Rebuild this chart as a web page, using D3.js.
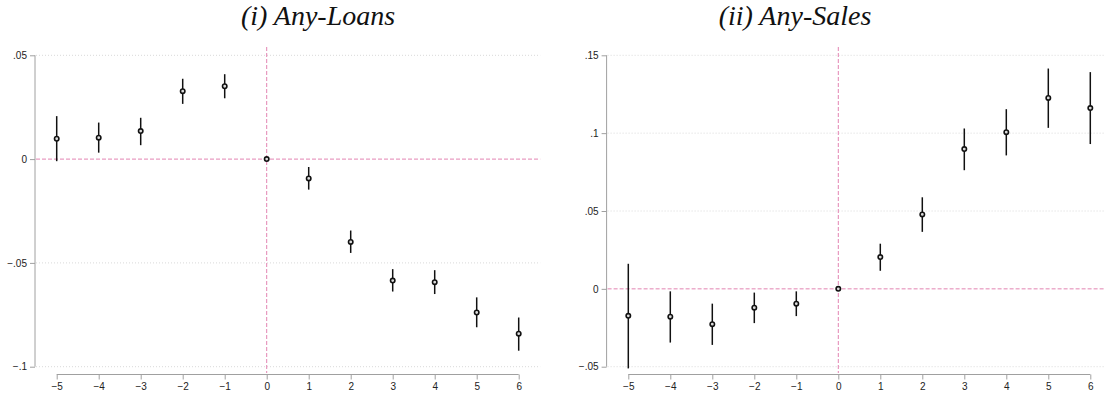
<!DOCTYPE html>
<html>
<head>
<meta charset="utf-8">
<script src="https://cdn.jsdelivr.net/npm/d3@7"></script>
<style>
  html, body { margin: 0; padding: 0; background: #fff; }
  svg { display: block; }
</style>
</head>
<body>
<svg id="chart" width="1104" height="398"></svg>
<script>
// ---- data ----
const eventTime = [-5, -4, -3, -2, -1, 0, 1, 2, 3, 4, 5, 6];

const loansCoef  = [0.0098, 0.0103, 0.0135, 0.0327, 0.0351, 0, -0.0093, -0.0399, -0.0585, -0.0593, -0.0739, -0.0841];
const loansLower = [-0.0010, 0.0031, 0.0067, 0.0266, 0.0293, 0, -0.0147, -0.0452, -0.0638, -0.0650, -0.0810, -0.0923];
const loansUpper = [0.0207, 0.0176, 0.0199, 0.0387, 0.0409, 0, -0.0038, -0.0344, -0.0530, -0.0535, -0.0666, -0.0763];

const salesCoef  = [-0.0173, -0.0179, -0.0227, -0.0121, -0.0095, 0, 0.0204, 0.0478, 0.0898, 0.1006, 0.1226, 0.1161];
const salesLower = [-0.0511, -0.0345, -0.0360, -0.0220, -0.0175, 0, 0.0116, 0.0366, 0.0762, 0.0857, 0.1034, 0.0930];
const salesUpper = [0.0161, -0.0016, -0.0095, -0.0024, -0.0016, 0, 0.0290, 0.0588, 0.1030, 0.1154, 0.1415, 0.1392];

const loansYTicks = [-0.1, -0.05, 0, 0.05];
const loansYLabels = ["\u2212.1", "\u2212.05", "0", ".05"];
const salesYTicks = [-0.05, 0, 0.05, 0.1, 0.15];
const salesYLabels = ["\u2212.05", "0", ".05", ".1", ".15"];
const xTickLabels = ["\u22125", "\u22124", "\u22123", "\u22122", "\u22121", "0", "1", "2", "3", "4", "5", "6"];

const titles = ["(i) Any-Loans", "(ii) Any-Sales"];

// ---- drawing ----
const svg = d3.select("#chart");
const AXIS = "#a0a0a0";
const PINK = "#e384b2";
const GRID = "#d9d9d9";

function panel(cfg) {
  const g = svg.append("g");
  const x = d3.scaleLinear().domain([-5, 6]).range(cfg.xRange);
  const y = d3.scaleLinear().domain(cfg.yDomain).range([366.7, 55.3]);
  const regionL = cfg.xRange[0] - 21.7, regionR = cfg.xRange[1] + 21.5;
  const regionT = 47, regionB = 375;

  // grid lines (dotted), skip zero
  g.selectAll(".grid").data(cfg.yTicks.filter(d => d !== 0)).enter().append("line")
    .attr("x1", regionL + 1).attr("x2", regionR)
    .attr("y1", d => y(d)).attr("y2", d => y(d))
    .attr("stroke", GRID).attr("stroke-width", 1).attr("stroke-dasharray", "1,2");

  // pink reference lines
  g.append("line")
    .attr("x1", regionL + 1).attr("x2", regionR)
    .attr("y1", y(0)).attr("y2", y(0))
    .attr("stroke", PINK).attr("stroke-width", 1).attr("stroke-dasharray", "4,2");
  g.append("line")
    .attr("x1", x(0)).attr("x2", x(0))
    .attr("y1", regionT).attr("y2", regionB - 2)
    .attr("stroke", PINK).attr("stroke-width", 1).attr("stroke-dasharray", "4,2");

  // y axis
  const yAxis = d3.axisLeft(y).tickValues(cfg.yTicks)
    .tickFormat((d, i) => cfg.yLabels[i]).tickSize(5).tickPadding(3);
  const ya = g.append("g").attr("transform", `translate(${regionL},0)`).call(yAxis);
  ya.select(".domain").attr("stroke", AXIS).attr("d", `M0,${y(cfg.yDomain[1])}V${y(cfg.yDomain[0])}`);
  ya.selectAll(".tick line").attr("stroke", AXIS);
  ya.selectAll(".tick text").attr("fill", "#222").style("font-family", "'Liberation Sans', Arial, sans-serif").style("font-size", "10px");

  // x axis
  const xAxis = d3.axisBottom(x).tickValues(eventTime)
    .tickFormat((d, i) => xTickLabels[i]).tickSize(5).tickPadding(3);
  const xa = g.append("g").attr("transform", `translate(0,${regionB - 0.5})`).call(xAxis);
  xa.select(".domain").attr("stroke", AXIS).attr("d", `M${x(-5)},0H${x(6)}`);
  xa.selectAll(".tick line").attr("stroke", AXIS);
  xa.selectAll(".tick text").attr("fill", "#222").style("font-family", "'Liberation Sans', Arial, sans-serif").style("font-size", "10px");

  // CI lines
  g.selectAll(".ci").data(eventTime).enter().append("line")
    .attr("x1", d => x(d)).attr("x2", d => x(d))
    .attr("y1", (d, i) => y(cfg.lower[i])).attr("y2", (d, i) => y(cfg.upper[i]))
    .attr("stroke", "#111").attr("stroke-width", 1.5);

  // points
  g.selectAll(".pt").data(eventTime).enter().append("circle")
    .attr("cx", d => x(d)).attr("cy", (d, i) => y(cfg.coef[i]))
    .attr("r", 2.2).attr("fill", "#ddd").attr("stroke", "#111").attr("stroke-width", 1.6);

  // title
  svg.append("text")
    .attr("x", cfg.titleX).attr("y", 25)
    .attr("text-anchor", "middle")
    .style("font-family", "'Liberation Serif', 'Times New Roman', serif")
    .style("font-style", "italic")
    .style("font-size", "28px")
    .attr("fill", "#111")
    .text(cfg.title);
}

panel({
  xRange: [56.7, 518.7], yDomain: [-0.1, 0.05],
  yTicks: loansYTicks, yLabels: loansYLabels,
  coef: loansCoef, lower: loansLower, upper: loansUpper,
  title: titles[0], titleX: 318
});
panel({
  xRange: [628.3, 1090.3], yDomain: [-0.05, 0.15],
  yTicks: salesYTicks, yLabels: salesYLabels,
  coef: salesCoef, lower: salesLower, upper: salesUpper,
  title: titles[1], titleX: 795
});
</script>
</body>
</html>
